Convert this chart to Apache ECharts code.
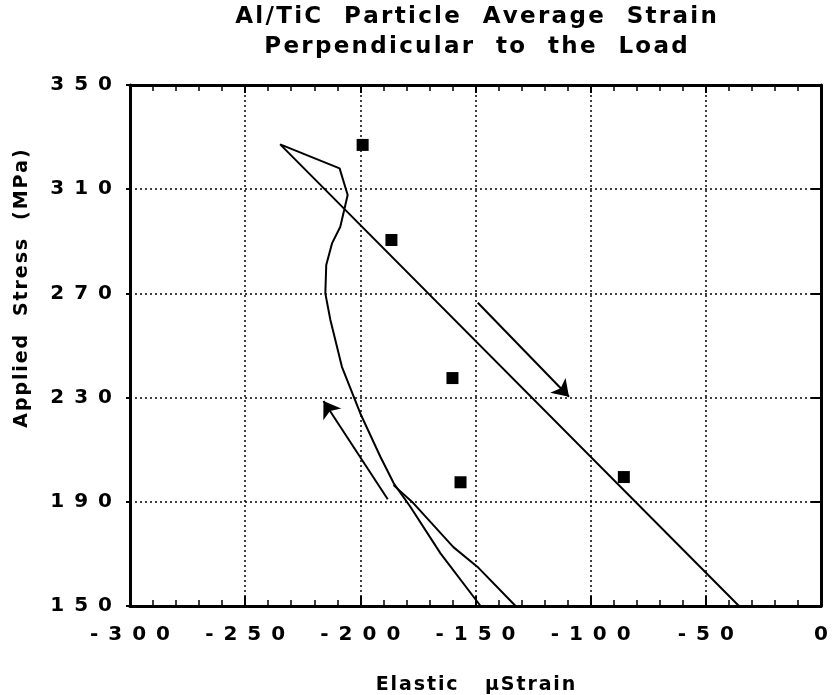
<!DOCTYPE html>
<html>
<head>
<meta charset="utf-8">
<script src="https://cdn.jsdelivr.net/npm/echarts@6/dist/echarts.min.js"></script>
<style>
    html, body { margin: 0; padding: 0; background: #fff; }
    #main { width: 832px; height: 695px; }
</style>
</head>
<body>
<div id="main"></div>
<script>
    // loading curve, runs up to the apex then straight back down
    var loadX = [-147.8, -165.2, -178.3, -185.5, -191.3, -200, -208, -213, -215.2, -214.8, -212.3, -208.7, -205.5, -209, -234.8, -35.6]
    var loadY = [150, 170.2, 188.1, 197.1, 207.3, 223.9, 241.8, 259.8, 270, 280.9, 289.2, 295.6, 307.8, 318, 327.2, 150]

    // lower short line
    var lowX = [-185.6, -177, -159.6, -149.1, -132.6]
    var lowY = [196.4, 189.5, 172.6, 165, 150]

    // measured particle strain (squares)
    var ptX = [-199, -186.5, -160, -156.5, -85.6]
    var ptY = [327, 290.5, 237.5, 197.5, 199.5]

    // arrows: [x1, y1, x2, y2]
    var arrowUp = [-188.1, 191, -216, 228.7]
    var arrowDown = [-149, 266.4, -109.4, 230.3]

    var xTicks = [-300, -250, -200, -150, -100, -50, 0]
    var yTicks = [150, 190, 230, 270, 310, 350]

    function zip (a, b) {
        return a.map(function (v, i) { return [v, b[i]] })
    }

    // wide letter spacing like the old plot lettering
    function spread (s, gap) {
        return String(s).split('').join(gap)
    }

    var font = "'DejaVu Sans', 'Liberation Sans', Arial, sans-serif"
    var hair = '\u200A'
    var lineCol = '#000'

    var myChart = echarts.init(document.getElementById('main'))

    myChart.setOption({
        animation: false,
        title: {
            text: spread('Al/TiC  Particle  Average  Strain', hair) + '\n' + spread('Perpendicular  to  the  Load', hair),
            left: 476,
            top: 2,
            padding: 0,
            textAlign: 'center',
            textStyle: {
                fontFamily: font,
                fontWeight: 'bold',
                fontSize: 23,
                lineHeight: 30,
                color: '#000'
            }
        },
        grid: {
            left: 130,
            right: 11,
            top: 85,
            bottom: 89,
            containLabel: false,
            outerBoundsMode: 'none'
        },
        xAxis: [
            {
                type: 'value',
                min: xTicks[0],
                max: xTicks[xTicks.length - 1],
                interval: 50,
                position: 'bottom',
                name: spread('Elastic   \u03BCStrain', hair),
                nameLocation: 'middle',
                nameGap: 70,
                nameTextStyle: { fontFamily: font, fontWeight: 'bold', fontSize: 19, color: '#000' },
                axisLine: { onZero: false, lineStyle: { color: lineCol, width: 3 } },
                axisTick: { inside: true, length: 10, lineStyle: { color: lineCol, width: 2 } },
                minorTick: { show: true, splitNumber: 5, length: 6, lineStyle: { color: lineCol, width: 1.5 } },
                axisLabel: {
                    margin: 19,
                    fontFamily: font, fontWeight: 'bold', fontSize: 20, color: '#000',
                    formatter: function (v) { return spread(v, '\u2002') }
                },
                splitLine: { show: true, lineStyle: { color: '#000', type: [2, 3], width: 1.5 } }
            },
            {
                type: 'value',
                min: xTicks[0],
                max: xTicks[xTicks.length - 1],
                interval: 50,
                position: 'top',
                axisLine: { onZero: false, lineStyle: { color: lineCol, width: 3 } },
                axisTick: { inside: true, length: 8, lineStyle: { color: lineCol, width: 2 } },
                minorTick: { show: true, splitNumber: 5, length: 6, lineStyle: { color: lineCol, width: 1.5 } },
                axisLabel: { show: false },
                splitLine: { show: false }
            }
        ],
        yAxis: [
            {
                type: 'value',
                min: yTicks[0],
                max: yTicks[yTicks.length - 1],
                interval: 40,
                position: 'left',
                name: spread('Applied  Stress  (MPa)', hair),
                nameLocation: 'middle',
                nameRotate: 90,
                nameGap: 98,
                nameTextStyle: {
                    fontFamily: font, fontWeight: 'bold', fontSize: 19, color: '#000',
                    padding: [0, 0, 0, 114]
                },
                axisLine: { onZero: false, lineStyle: { color: lineCol, width: 3 } },
                axisTick: { inside: false, length: 4, lineStyle: { color: lineCol, width: 2 } },
                axisLabel: {
                    margin: 18,
                    fontFamily: font, fontWeight: 'bold', fontSize: 20, color: '#000',
                    formatter: function (v) { return spread(v, '\u2002') }
                },
                splitLine: { show: true, lineStyle: { color: '#000', type: [2, 3], width: 1.5 } }
            },
            {
                type: 'value',
                min: yTicks[0],
                max: yTicks[yTicks.length - 1],
                interval: 40,
                position: 'right',
                axisLine: { onZero: false, lineStyle: { color: lineCol, width: 3 } },
                axisTick: { inside: true, length: 10, lineStyle: { color: lineCol, width: 2 } },
                axisLabel: { show: false },
                splitLine: { show: false }
            }
        ],
        series: [
            {
                name: 'loading',
                type: 'line',
                data: zip(loadX, loadY),
                symbol: 'none',
                lineStyle: { color: '#000', width: 2 }
            },
            {
                name: 'lower',
                type: 'line',
                data: zip(lowX, lowY),
                symbol: 'none',
                lineStyle: { color: '#000', width: 2 }
            },
            {
                name: 'particle',
                type: 'scatter',
                data: zip(ptX, ptY),
                symbol: 'rect',
                symbolSize: 12,
                itemStyle: { color: '#000', opacity: 1 }
            },
            {
                name: 'arrows',
                type: 'lines',
                coordinateSystem: 'cartesian2d',
                symbol: ['none', 'arrow'],
                symbolSize: 16,
                lineStyle: { color: '#000', width: 2, opacity: 1 },
                data: [
                    { coords: [[arrowUp[0], arrowUp[1]], [arrowUp[2], arrowUp[3]]] },
                    { coords: [[arrowDown[0], arrowDown[1]], [arrowDown[2], arrowDown[3]]] }
                ]
            }
        ]
    })
</script>
</body>
</html>
